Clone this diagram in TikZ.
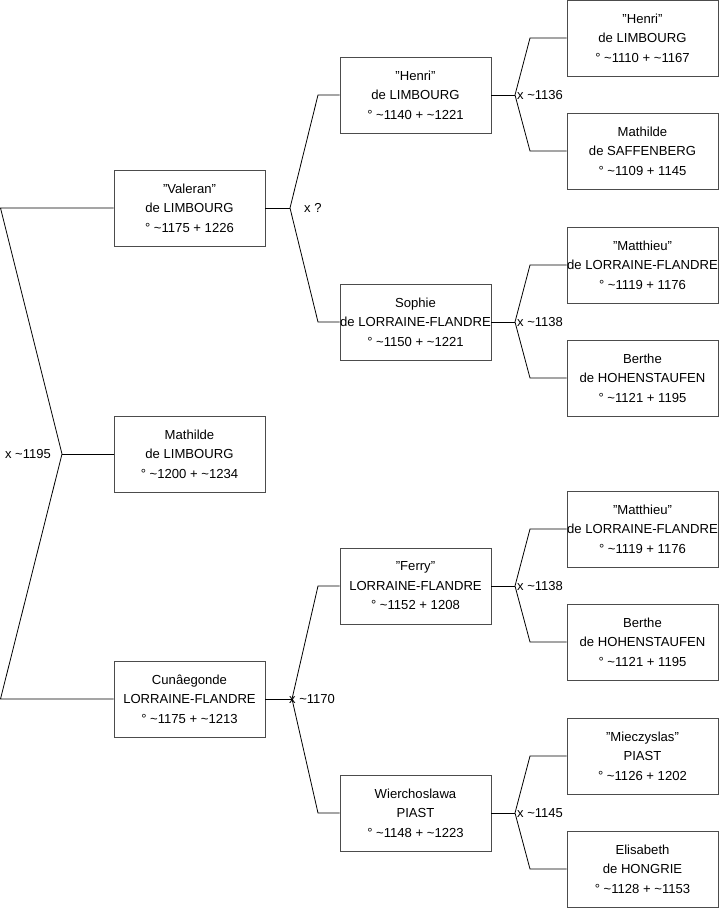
\documentclass[tikz,border=0pt]{standalone}
\usepackage{fontspec}
\setmainfont{Liberation Sans}
\newcommand{\dqm}{\symbol{34}}
\begin{document}
\begin{tikzpicture}[x=1pt,y=-1pt,
  person/.style={draw=black!70,line width=0.9pt,fill=white,minimum width=151pt,minimum height=76pt,inner sep=0pt,align=center,font=\fontsize{13.1}{19.5}\selectfont},
  conn/.style={draw=black,line width=0.8pt},
  mlabel/.style={inner sep=0pt,font=\fontsize{13}{15}\selectfont}]
\useasboundingbox (0,0) rectangle (719,908);
% column 1
\node[person] (val) at (189.5,208) {\dqm Valeran\dqm\\de LIMBOURG\\° \textasciitilde1175 + 1226};
\node[person] (mat) at (189.5,454) {Mathilde\\de LIMBOURG\\° \textasciitilde1200 + \textasciitilde1234};
\node[person] (cun) at (189.5,699) {Cunâegonde\\LORRAINE-FLANDRE\\° \textasciitilde1175 + \textasciitilde1213};
% column 2
\node[person] (hen) at (415.5,95) {\dqm Henri\dqm\\de LIMBOURG\\° \textasciitilde1140 + \textasciitilde1221};
\node[person] (sop) at (415.5,322) {Sophie\\de LORRAINE-FLANDRE\\° \textasciitilde1150 + \textasciitilde1221};
\node[person] (fer) at (415.5,586) {\dqm Ferry\dqm\\LORRAINE-FLANDRE\\° \textasciitilde1152 + 1208};
\node[person] (wie) at (415.5,813) {Wierchoslawa\\PIAST\\° \textasciitilde1148 + \textasciitilde1223};
% column 3
\node[person] (p1) at (642.5,38) {\dqm Henri\dqm\\de LIMBOURG\\° \textasciitilde1110 + \textasciitilde1167};
\node[person] (p2) at (642.5,151) {Mathilde\\de SAFFENBERG\\° \textasciitilde1109 + 1145};
\node[person] (p3) at (642.5,265) {\dqm Matthieu\dqm\\de LORRAINE-FLANDRE\\° \textasciitilde1119 + 1176};
\node[person] (p4) at (642.5,378) {Berthe\\de HOHENSTAUFEN\\° \textasciitilde1121 + 1195};
\node[person] (p5) at (642.5,529) {\dqm Matthieu\dqm\\de LORRAINE-FLANDRE\\° \textasciitilde1119 + 1176};
\node[person] (p6) at (642.5,642) {Berthe\\de HOHENSTAUFEN\\° \textasciitilde1121 + 1195};
\node[person] (p7) at (642.5,756) {\dqm Mieczyslas\dqm\\PIAST\\° \textasciitilde1126 + 1202};
\node[person] (p8) at (642.5,869) {Elisabeth\\de HONGRIE\\° \textasciitilde1128 + \textasciitilde1153};
% vertices
\coordinate (v1) at (62,454);
\coordinate (v2) at (290,208);
\coordinate (v3) at (515,95);
\coordinate (v4) at (515,322);
\coordinate (v5) at (292,699);
\coordinate (v6) at (515,586);
\coordinate (v7) at (515,813);
% connectors
\draw[conn] (val.west) -- (0.5,208) -- (v1) -- (0.5,699) -- (cun.west);
\draw[conn] (v1) -- (mat.west);
\draw[conn] (val.east) -- (v2);
\draw[conn] (hen.west) -- (318,95) -- (v2) -- (318,322) -- (sop.west);
\draw[conn] (hen.east) -- (v3);
\draw[conn] (p1.west) -- (530,38) -- (v3) -- (530,151) -- (p2.west);
\draw[conn] (sop.east) -- (v4);
\draw[conn] (p3.west) -- (530,265) -- (v4) -- (530,378) -- (p4.west);
\draw[conn] (cun.east) -- (v5);
\draw[conn] (fer.west) -- (318,586) -- (v5) -- (318,813) -- (wie.west);
\draw[conn] (fer.east) -- (v6);
\draw[conn] (p5.west) -- (530,529) -- (v6) -- (530,642) -- (p6.west);
\draw[conn] (wie.east) -- (v7);
\draw[conn] (p7.west) -- (530,756) -- (v7) -- (530,869) -- (p8.west);
% labels
\node[mlabel,anchor=east] (l1) at ([xshift=-11pt]v1) {x \textasciitilde1195};
\node[mlabel,anchor=west] (l2) at ([xshift=14pt]v2) {x ?};
\node[mlabel,anchor=west] (l3) at ([xshift=2pt]v3) {x \textasciitilde1136};
\node[mlabel,anchor=west] (l4) at ([xshift=2pt]v4) {x \textasciitilde1138};
\node[mlabel,anchor=west] (l5) at ([xshift=-3pt]v5) {x \textasciitilde1170};
\node[mlabel,anchor=west] (l6) at ([xshift=2pt]v6) {x \textasciitilde1138};
\node[mlabel,anchor=west] (l7) at ([xshift=2pt]v7) {x \textasciitilde1145};
\end{tikzpicture}
\end{document}
